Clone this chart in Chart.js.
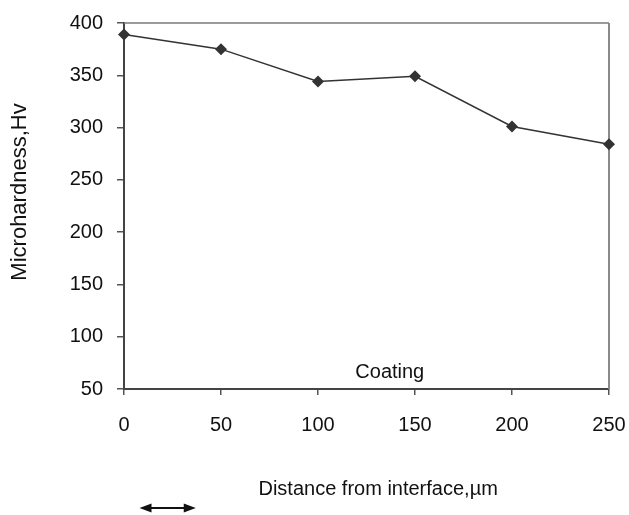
<!DOCTYPE html>
<html>
<head>
<meta charset="utf-8">
<script src="https://cdn.jsdelivr.net/npm/chart.js@4"></script>
<style>
html,body{margin:0;padding:0;background:#fff;}
#wrap{width:629px;height:515px;}
</style>
</head>
<body>
<div id="wrap"><canvas id="c" width="629" height="515"></canvas></div>
<script>
const distances = [0, 50, 100, 150, 200, 250];
const hardness = [389, 375, 344, 349, 301, 284];
const yTicks = [50, 100, 150, 200, 250, 300, 350, 400];
const xTicks = [0, 50, 100, 150, 200, 250];
const xTitle = 'Distance from interface,\u00b5m';
const yTitle = 'Microhardness,Hv';
const noteText = 'Coating';

const FONT = '"Liberation Sans", Arial, sans-serif';

const decor = {
  id: 'decor',
  beforeDatasetsDraw(chart) {
    const {ctx, chartArea: a} = chart;
    ctx.save();
    ctx.strokeStyle = '#7a7a7a';
    ctx.lineWidth = 1.5;
    ctx.beginPath();
    ctx.moveTo(a.left, a.top);
    ctx.lineTo(a.right, a.top);
    ctx.stroke();
    ctx.strokeStyle = '#8a8a8a';
    ctx.lineWidth = 2;
    ctx.beginPath();
    ctx.moveTo(a.right, a.top);
    ctx.lineTo(a.right, a.bottom);
    ctx.stroke();
    ctx.restore();
  },
  afterDraw(chart) {
    const {ctx, scales: {x, y}} = chart;
    ctx.save();
    ctx.fillStyle = '#111';
    ctx.font = '20px ' + FONT;
    ctx.textAlign = 'center';
    ctx.textBaseline = 'middle';
    ctx.fillText(noteText, x.getPixelForValue(137), y.getPixelForValue(66));
    ctx.fillText(xTitle, x.getPixelForValue(131), 489);
    ctx.save();
    ctx.font = '22px ' + FONT;
    ctx.translate(20, 192);
    ctx.rotate(-Math.PI / 2);
    ctx.fillText(yTitle, 0, 0);
    ctx.restore();
    const x1 = x.getPixelForValue(8), x2 = x.getPixelForValue(37), ay = 508;
    ctx.strokeStyle = '#111';
    ctx.lineWidth = 2;
    ctx.beginPath();
    ctx.moveTo(x1 + 6, ay);
    ctx.lineTo(x2 - 6, ay);
    ctx.stroke();
    ctx.beginPath();
    ctx.moveTo(x1, ay);
    ctx.lineTo(x1 + 12, ay - 4.5);
    ctx.lineTo(x1 + 12, ay + 4.5);
    ctx.closePath();
    ctx.fill();
    ctx.beginPath();
    ctx.moveTo(x2, ay);
    ctx.lineTo(x2 - 12, ay - 4.5);
    ctx.lineTo(x2 - 12, ay + 4.5);
    ctx.closePath();
    ctx.fill();
    ctx.restore();
  }
};

new Chart(document.getElementById('c'), {
  type: 'line',
  data: {
    datasets: [{
      data: distances.map((d, i) => ({x: d, y: hardness[i]})),
      borderColor: '#333',
      borderWidth: 1.5,
      backgroundColor: '#333',
      pointStyle: 'rectRot',
      pointRadius: 6,
      pointBorderWidth: 0,
      tension: 0,
      clip: false
    }]
  },
  options: {
    responsive: false,
    animation: false,
    events: [],
    layout: {padding: {top: 23, right: 20, left: 0, bottom: 0}},
    plugins: {legend: {display: false}, tooltip: {enabled: false}},
    scales: {
      x: {
        type: 'linear',
        min: 0, max: 250,
        afterBuildTicks: s => { s.ticks = xTicks.map(v => ({value: v})); },
        afterFit: s => { s.height = 126; s.paddingLeft = 0; s.paddingRight = 0; },
        grid: {display: true, drawOnChartArea: false, drawTicks: true, tickLength: 6, color: '#555', lineWidth: 1.5},
        border: {display: true, color: '#444', width: 2},
        ticks: {color: '#111', font: {family: FONT, size: 20}, padding: 18, maxRotation: 0}
      },
      y: {
        type: 'linear',
        min: 50, max: 400,
        afterBuildTicks: s => { s.ticks = yTicks.map(v => ({value: v})); },
        afterFit: s => { s.width = 124; s.paddingTop = 0; s.paddingBottom = 0; },
        grid: {display: true, drawOnChartArea: false, drawTicks: true, tickLength: 7, color: '#555', lineWidth: 1.5},
        border: {display: true, color: '#444', width: 2},
        ticks: {color: '#111', font: {family: FONT, size: 20}, padding: 14}
      }
    }
  },
  plugins: [decor]
});
</script>
</body>
</html>
